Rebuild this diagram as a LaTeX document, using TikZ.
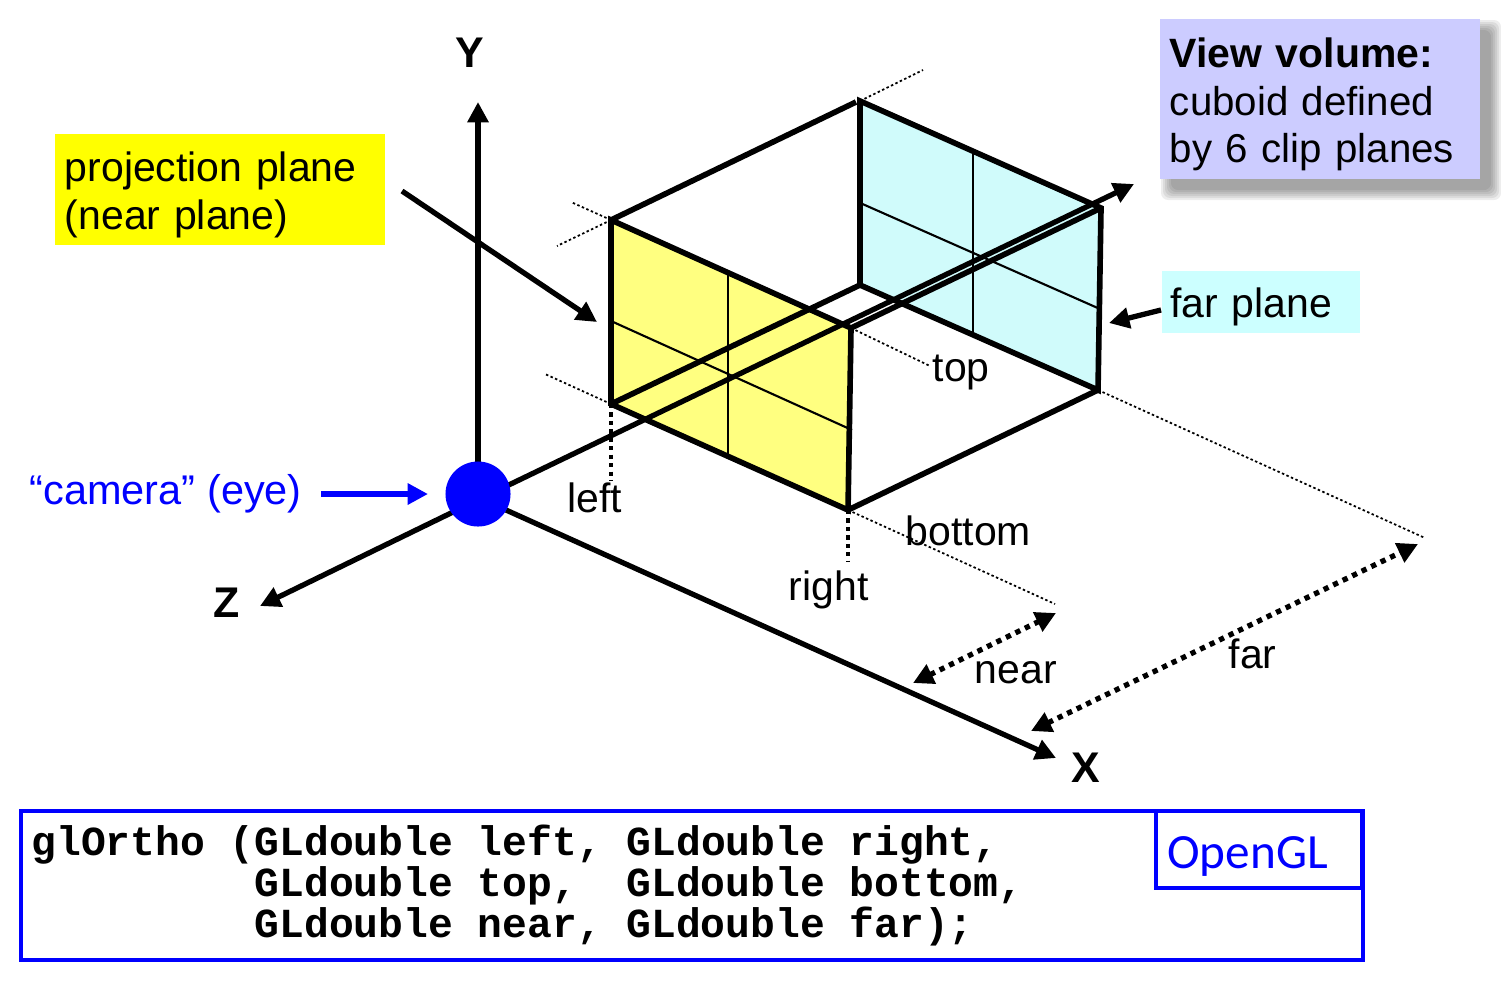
\documentclass[tikz,border=0pt]{standalone}
\usepackage{fontspec}
\setmainfont{Liberation Sans}
\setmonofont{Liberation Mono}
\newfontfamily\oglfont{Carlito}
\usepackage{xcolor}
\usepackage{tikz}
\usetikzlibrary{arrows.meta,positioning,calc}
\definecolor{nearyellow}{RGB}{255,255,128}
\definecolor{farcyan}{RGB}{208,251,251}
\definecolor{notecyan}{RGB}{204,255,255}
\definecolor{noteblue}{RGB}{204,204,255}
\definecolor{noteyellow}{RGB}{255,255,0}
\definecolor{pureblue}{RGB}{0,0,255}
\newcommand{\gapch}{\hspace*{0.6em}}
\tikzset{
  edge/.style={line width=1.6pt},
  gridline/.style={line width=0.6pt},
  axis/.style={line width=1.5pt,->},
  guide/.style={line width=0.5pt,dash pattern=on 0.7pt off 0.7pt},
  dropline/.style={line width=1pt,dash pattern=on 1.2pt off 1.2pt},
  dimline/.style={line width=1.5pt,dash pattern=on 1.5pt off 1.5pt,<->},
  lbl/.style={inner sep=0pt,anchor=base west},
  axlbl/.style={font=\fontsize{12.2}{14}\bfseries\selectfont},
  txt/.style={font=\fontsize{11.65}{13.7}\selectfont}
}
\begin{document}
\begin{tikzpicture}[x=0.01cm,y=-0.01cm,>={Triangle[length=5.8pt,width=5.8pt]},txt]
\useasboundingbox (0,0) rectangle (1501,981);

% Corners of the cuboid
\coordinate (nearTL) at (611,220);
\coordinate (nearTR) at (851,328);
\coordinate (nearBR) at (848,510);
\coordinate (nearBL) at (611,404);
\coordinate (farTL) at (860,101);
\coordinate (farTR) at (1101,208);
\coordinate (farBR) at (1098,390);
\coordinate (farBL) at (860,285);
\coordinate (farTLend) at (856,102);

% Planes
\fill[nearyellow] (nearTL) -- (nearTR) -- (nearBR) -- (nearBL) -- cycle;
\fill[farcyan] (farTL) -- (farTR) -- (farBR) -- (farBL) -- cycle;

% Plane grid
\coordinate (nearVt) at (728,274);
\coordinate (nearVb) at (728,458);
\coordinate (nearHl) at (611,321);
\coordinate (nearHr) at (852,430);
\coordinate (farVt) at (973,153);
\coordinate (farVb) at (973,335);
\coordinate (farHl) at (858,202);
\coordinate (farHr) at (1100,309);
\draw[gridline] (nearVt) -- (nearVb);
\draw[gridline] (nearHl) -- (nearHr);
\draw[gridline] (farVt) -- (farVb);
\draw[gridline] (farHl) -- (farHr);

% Guides
\coordinate (gA) at (571,202);
\coordinate (gB) at (557,246);
\coordinate (gC) at (545,374);
\coordinate (gD) at (923,70);
\coordinate (gE) at (930,366);
\coordinate (gF) at (1425,538);
\coordinate (gG) at (1055,604);
\coordinate (gH) at (611,480);
\coordinate (gI) at (848,562);
\draw[guide] (nearTL) -- (gA);
\draw[guide] (nearTL) -- (gB);
\draw[guide] (nearBL) -- (gC);
\draw[guide] (farTL) -- (gD);
\draw[guide] (nearTR) -- (gE);
\draw[guide] (farBR) -- (gF);
\draw[guide] (nearBR) -- (gG);
\draw[dropline] (nearBL) -- (gH);
\draw[dropline] (nearBR) -- (gI);

% Cuboid edges
\draw[edge] (nearTL) -- (nearTR) -- (nearBR) -- (nearBL) -- cycle;
\draw[edge] (farTL) -- (farTR) -- (farBR) -- (farBL) -- cycle;
\draw[edge] (nearTL) -- (farTLend);
\draw[edge] (nearBL) -- (farBL);
\draw[edge] (nearBR) -- (farBR);
\draw[edge] (nearTR) -- (farTR);

% Axes and eye
\coordinate (xstart) at (506,510);
\coordinate (xtip) at (1056,758);
\coordinate (ystart) at (478,470);
\coordinate (ytip) at (478,102);
\coordinate (ztip) at (260,606);
\coordinate (neartip) at (1134,184);
\coordinate (zmid) at (490,494);
\draw[axis] (ystart) -- (ytip);
\draw[axis] (xstart) -- (xtip);
\draw[axis] (zmid) -- (ztip);
\draw[axis] (zmid) -- (neartip);
\node[circle,fill=pureblue,minimum size=0.65cm,inner sep=0pt] (eye) at (478,494) {};

% Callouts
\node[fill=noteyellow,minimum width=3.3cm,minimum height=1.11cm,text width=3.1cm,inner sep=0pt,align=left] (nearnote) at (220,189.5) {\rule{0pt}{11.5pt}projection plane\\(near plane)};
\node[fill=notecyan,minimum width=1.98cm,minimum height=0.62cm,text width=1.9cm,inner sep=0pt,align=left] (farnote) at (1261,302) {\rule{0pt}{11pt}\hspace*{1.2pt}far plane};
\foreach \d in {0,2,4,6,8,10}
  \fill[black,opacity=0.07,rounded corners=2pt] ($(1171,30)+(-\d,-\d)$) rectangle ($(1491,190)+(\d,\d)$);
\node[fill=noteblue,minimum width=3.2cm,minimum height=1.6cm,text width=3cm,inner sep=0pt,align=left,font=\fontsize{11.45}{13.6}\selectfont] (viewnote) at (1320,99) {\rule{0pt}{11.5pt}{\fontsize{11.65}{13.6}\selectfont\textbf{View volume:}}\\cuboid defined\\by 6 clip planes};

% Callout arrows
\coordinate (nearfrom) at (402,191);
\coordinate (nearto) at (597,322);
\coordinate (farfrom) at (1161,310);
\coordinate (farto) at (1109,323);
\coordinate (camfrom) at (321,494);
\coordinate (camto) at (428,494);
\draw[axis] (nearfrom) -- (nearto);
\draw[axis] (farfrom) -- (farto);
\draw[axis,pureblue] (camfrom) -- (camto);

% Dimensions
\coordinate (neardimA) at (913,683);
\coordinate (neardimB) at (1056,613);
\coordinate (fardimA) at (1031,731);
\coordinate (fardimB) at (1418,544);
\draw[dimline] (neardimA) -- (neardimB);
\draw[dimline] (fardimA) -- (fardimB);

% Labels
\node[axlbl] (ylabel) at (470,53) {Y};
\node[axlbl] (zlabel) at (227,603) {Z};
\node[axlbl] (xlabel) at (1086,768) {X};
\node[lbl,text=pureblue,font=\fontsize{11.8}{13.7}\selectfont] (camlabel) at (29,504) {“camera” (eye)};
\node[lbl] (toplabel) at (932,381) {top};
\node[lbl] (leftlabel) at (567,512) {left};
\node[lbl] (rightlabel) at (788,600) {right};
\node[lbl] (bottomlabel) at (905,545) {bottom};
\node[lbl] (nearlabel) at (974,683) {near};
\node[lbl] (farlabel) at (1228,668) {far};

% Code box
\node[draw=pureblue,line width=1.15pt,minimum width=13.42cm,minimum height=1.49cm,text width=13.2cm,inner sep=0pt,align=left,font=\fontsize{11.75}{11.6}\ttfamily\bfseries\selectfont] (codebox) at (692,885.5)
  {glOrtho\gapch(GLdouble\gapch left,\gapch GLdouble\gapch right,\\
   \gapch\gapch\gapch\gapch\gapch\gapch\gapch\gapch\gapch GLdouble\gapch top,\gapch\gapch GLdouble\gapch bottom,\\
   \gapch\gapch\gapch\gapch\gapch\gapch\gapch\gapch\gapch GLdouble\gapch near,\gapch GLdouble\gapch far);};
\node[draw=pureblue,line width=1.15pt,minimum width=2.06cm,minimum height=0.77cm,text=pureblue,inner sep=0pt,font=\fontsize{14}{16}\oglfont] (oglbox) at (1259,849.5) {\hspace*{-6.5pt}\raisebox{-5.3pt}[0pt][0pt]{OpenGL}};

\end{tikzpicture}
\end{document}
